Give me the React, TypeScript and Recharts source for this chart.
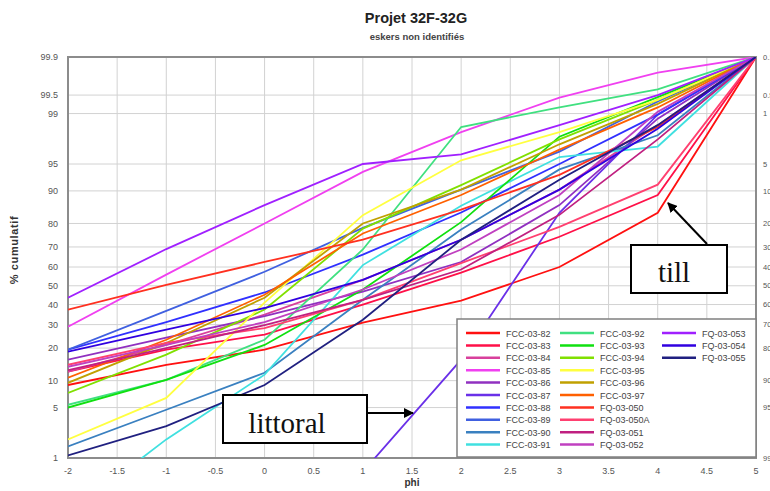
import { CartesianGrid, Line, LineChart, ReferenceArea, XAxis, YAxis } from 'recharts'

// phi classes where every curve has a point
const phi = [-2, -1, 0, 1, 2, 3, 4, 5]

// % cumulatif, one array per sample
const fcc82 = [9.0, 14.3, 19.4, 30.9, 42, 60, 83.8, 99.9]
const fcc83 = [12.3, 19.4, 25.5, 39.9, 57, 74.6, 89, 99.9]
const fcc84 = [12.3, 21.2, 34.8, 53.2, 73.3, 90.3, 98.5, 99.9]
const fcc85 = [29, 56, 80, 93.8, 98.1, 99.45, 99.8, 99.9]
const fcc86 = [15.9, 24.2, 34.1, 46.8, 62.6, 86.2, 98.8, 99.9]
const fcc87 = [0.01, 0.02, 0.05, 0.6, 15.9, 83.8, 98.96, 99.9]
const fcc88 = [19.4, 31.2, 46.4, 66.3, 83.9, 95, 98.96, 99.9]
const fcc89 = [19.4, 36.7, 57.5, 78.3, 90.3, 96.5, 99.36, 99.9]
const fcc90 = [1.5, 4.7, 12, 42.5, 77.6, 94.2, 97.9, 99.9]
const fcc91 = [0.1, 1.9, 11.5, 61, 86, 95.9, 97, 99.9]
const fcc92 = [5.4, 10.2, 23.3, 68.8, 98.4, 99.2, 99.6, 99.9]
const fcc93 = [5, 10.2, 21.2, 48, 80.5, 97.8, 99.46, 99.9]
const fcc94 = [7.4, 17.6, 37.4, 78, 91.3, 97.6, 99.4, 99.9]
const fcc95 = [1.9, 6.5, 41, 83, 95.5, 98.1, 99.4, 99.9]
const fcc96 = [9.5, 22, 43.6, 80, 90.3, 97.2, 99.3, 99.9]
const fcc97 = [10.7, 23.3, 45.2, 76, 89, 96.7, 99.2, 99.9]
const fq050 = [37.4, 50.5, 62.6, 73.3, 84.8, 93.3, 98.4, 99.9]
const fq050a = [14.3, 22, 28.4, 42.5, 62, 78.7, 91.4, 99.9]
const fq051 = [12.7, 20, 29.8, 42.5, 58.7, 83.1, 97.6, 99.9]
const fq052 = [13.7, 21.2, 31.2, 48, 68.8, 89, 99.06, 99.9]
const fq053 = [43.6, 69, 86.2, 95, 96.2, 98.5, 99.5, 99.9]
const fq054 = [18.7, 27.7, 38.2, 53.2, 73.3, 90.3, 98.3, 99.9]
const fq055 = [1.1, 2.9, 9, 32.3, 73.3, 92.4, 98.5, 99.9]

const series = [
  { name: 'FCC-03-82', color: '#ff1010', values: fcc82 },
  { name: 'FCC-03-83', color: '#ff1048', values: fcc83 },
  { name: 'FCC-03-84', color: '#d8409c', values: fcc84 },
  { name: 'FCC-03-85', color: '#f040f0', values: fcc85 },
  { name: 'FCC-03-86', color: '#9030c0', values: fcc86 },
  { name: 'FCC-03-87', color: '#6a30e8', values: fcc87 },
  { name: 'FCC-03-88', color: '#3030ff', values: fcc88 },
  { name: 'FCC-03-89', color: '#4060e0', values: fcc89 },
  { name: 'FCC-03-90', color: '#3a80c0', values: fcc90 },
  { name: 'FCC-03-91', color: '#40e0e0', values: fcc91 },
  { name: 'FCC-03-92', color: '#40e080', values: fcc92 },
  { name: 'FCC-03-93', color: '#10e010', values: fcc93 },
  { name: 'FCC-03-94', color: '#80e000', values: fcc94 },
  { name: 'FCC-03-95', color: '#ffff40', values: fcc95 },
  { name: 'FCC-03-96', color: '#c0a000', values: fcc96 },
  { name: 'FCC-03-97', color: '#ff6000', values: fcc97 },
  { name: 'FQ-03-050', color: '#ff3020', values: fq050 },
  { name: 'FQ-03-050A', color: '#ff4070', values: fq050a },
  { name: 'FQ-03-051', color: '#c02080', values: fq051 },
  { name: 'FQ-03-052', color: '#c040c0', values: fq052 },
  { name: 'FQ-03-053', color: '#a020ff', values: fq053 },
  { name: 'FQ-03-054', color: '#3000e0', values: fq054 },
  { name: 'FQ-03-055', color: '#202080', values: fq055 },
]

const xTicks = [-2, -1.5, -1, -0.5, 0, 0.5, 1, 1.5, 2, 2.5, 3, 3.5, 4, 4.5, 5]
const leftTickLabels = [1, 5, 10, 20, 30, 40, 50, 60, 70, 80, 90, 95, 99, 99.5, 99.9]
const rightTickLabels = ['99', '95', '90', '80', '70', '60', '50', '40', '30', '20', '10', '5', '1', '0.5', '0.1']

// inverse normal cdf (Acklam), used for the probability axis
function probit(p: number) {
  const a = [-39.69683028665376, 220.9460984245205, -275.9285104469687, 138.357751867269, -30.66479806614716, 2.506628277459239]
  const b = [-54.47609879822406, 161.5858368580409, -155.6989798598866, 66.80131188771972, -13.28068155288572]
  const c = [-0.007784894002430293, -0.3223964580411365, -2.400758277161838, -2.549732539343734, 4.374664141464968, 2.938163982698783]
  const d = [0.007784695709041462, 0.3224671290700398, 2.445134137142996, 3.754408661907416]
  const plow = 0.02425
  if (p < plow) {
    const q = Math.sqrt(-2 * Math.log(p))
    return (((((c[0] * q + c[1]) * q + c[2]) * q + c[3]) * q + c[4]) * q + c[5]) / ((((d[0] * q + d[1]) * q + d[2]) * q + d[3]) * q + 1)
  }
  if (p > 1 - plow) {
    const q = Math.sqrt(-2 * Math.log(1 - p))
    return -(((((c[0] * q + c[1]) * q + c[2]) * q + c[3]) * q + c[4]) * q + c[5]) / ((((d[0] * q + d[1]) * q + d[2]) * q + d[3]) * q + 1)
  }
  const q = p - 0.5
  const r = q * q
  return ((((((a[0] * r + a[1]) * r + a[2]) * r + a[3]) * r + a[4]) * r + a[5]) * q) / (((((b[0] * r + b[1]) * r + b[2]) * r + b[3]) * r + b[4]) * r + 1)
}

const z = (pct: number) => probit(pct / 100)
const yTicks = leftTickLabels.map(z)
const zMin = z(1)
const zMax = z(99.9)

const data = phi.map((x, i) => {
  const row: Record<string, number> = { phi: x }
  for (const s of series) row[s.name] = z(s.values[i])
  return row
})

const tickIndex = (v: number) => yTicks.findIndex((t) => Math.abs(t - v) < 1e-6)
const font = '"Liberation Sans", Arial, sans-serif'
const serif = '"Liberation Serif", "Times New Roman", serif'
const tickStyle = { fontSize: 9, fill: '#555', fontFamily: font }

function Overlay() {
  const cols = [466, 560, 662]
  return (
    <svg width={770} height={491} style={{ position: 'absolute', left: 0, top: 0, pointerEvents: 'none' }}>
      <text x={416} y={23} textAnchor="middle" fontFamily={font} fontWeight="bold" fontSize={14.5} fill="#222">
        Projet 32F-32G
      </text>
      <text x={417} y={40} textAnchor="middle" fontFamily={font} fontWeight="bold" fontSize={9.5} fill="#444">
        eskers non identifiés
      </text>
      <text x={18} y={250} transform="rotate(-90 18 250)" textAnchor="middle" fontFamily={font} fontWeight="bold" fontSize={11} letterSpacing={0.6} fill="#333">
        % cumulatif
      </text>

      {/* legend box */}
      <rect x={457} y={319} width={299} height={138} fill="#fff" stroke="#808080" strokeWidth={1.5} />
      {series.map((s, i) => {
        const col = i < 10 ? 0 : i < 20 ? 1 : 2
        const row = i < 20 ? i % 10 : i - 20
        const y = 333 + row * 12.4
        return (
          <g key={s.name}>
            <line x1={cols[col]} x2={cols[col] + 34} y1={y} y2={y} stroke={s.color} strokeWidth={2.5} />
            <text x={cols[col] + 40} y={y + 3.5} fontFamily={font} fontSize={9} fill="#444">
              {s.name}
            </text>
          </g>
        )
      })}

      {/* annotations */}
      <defs>
        <marker id="head" markerWidth="10" markerHeight="10" refX="9" refY="5" orient="auto" markerUnits="userSpaceOnUse">
          <path d="M0,0 L10,5 L0,10 Z" fill="#000" />
        </marker>
      </defs>
      <rect x={631} y={245} width={96} height={48} fill="#fff" stroke="#000" strokeWidth={2} />
      <text x={674} y={282} textAnchor="middle" fontFamily={serif} fontSize={29} fill="#111">
        till
      </text>
      <line x1={707} y1={244} x2={668} y2={203} stroke="#000" strokeWidth={2} markerEnd="url(#head)" />

      <rect x={223} y={395} width={144} height={48} fill="#fff" stroke="#000" strokeWidth={2} />
      <text x={287} y={433} textAnchor="middle" fontFamily={serif} fontSize={29} fill="#111">
        littoral
      </text>
      <line x1={367} y1={413} x2={413} y2={413} stroke="#000" strokeWidth={2} markerEnd="url(#head)" />
    </svg>
  )
}

export default function App() {
  return (
    <div style={{ position: 'absolute', left: 0, top: 0, width: 770, height: 491, background: '#fff' }}>
      <LineChart width={770} height={491} data={data} margin={{ top: 57, right: 0, bottom: 3, left: 28 }}>
        <CartesianGrid yAxisId="left" stroke="#d2d2d2" strokeWidth={1} />
        <XAxis
          dataKey="phi"
          type="number"
          domain={[-2, 5]}
          ticks={xTicks}
          allowDataOverflow
          interval={0}
          height={30}
          tickLine={false}
          axisLine={false}
          tick={tickStyle}
          tickMargin={4}
          label={{ value: 'phi', position: 'insideBottom', offset: 2, fontSize: 10, fontWeight: 'bold', fill: '#333', fontFamily: font }}
        />
        <YAxis
          yAxisId="left"
          type="number"
          domain={[zMin, zMax]}
          ticks={yTicks}
          allowDataOverflow
          interval={0}
          width={40}
          tickLine={false}
          axisLine={false}
          tick={tickStyle}
          tickMargin={4}
          tickFormatter={(v: number) => {
            const i = tickIndex(v)
            return i >= 0 ? String(leftTickLabels[i]) : ''
          }}
        />
        <YAxis
          yAxisId="right"
          orientation="right"
          type="number"
          domain={[zMin, zMax]}
          ticks={yTicks}
          allowDataOverflow
          interval={0}
          width={14}
          tickLine={false}
          axisLine={false}
          tick={{ ...tickStyle, fontSize: 7.5 }}
          tickMargin={1}
          tickFormatter={(v: number) => {
            const i = tickIndex(v)
            return i >= 0 ? rightTickLabels[i] : ''
          }}
        />
        {series.map((s) => (
          <Line
            key={s.name}
            yAxisId="left"
            dataKey={s.name}
            type="linear"
            stroke={s.color}
            strokeWidth={1.8}
            dot={false}
            activeDot={false}
            isAnimationActive={false}
          />
        ))}
        <ReferenceArea yAxisId="left" x1={-2} x2={5} y1={zMin} y2={zMax} fill="none" stroke="#8c8c8c" strokeWidth={2} ifOverflow="visible" />
      </LineChart>
      <Overlay />
    </div>
  )
}
